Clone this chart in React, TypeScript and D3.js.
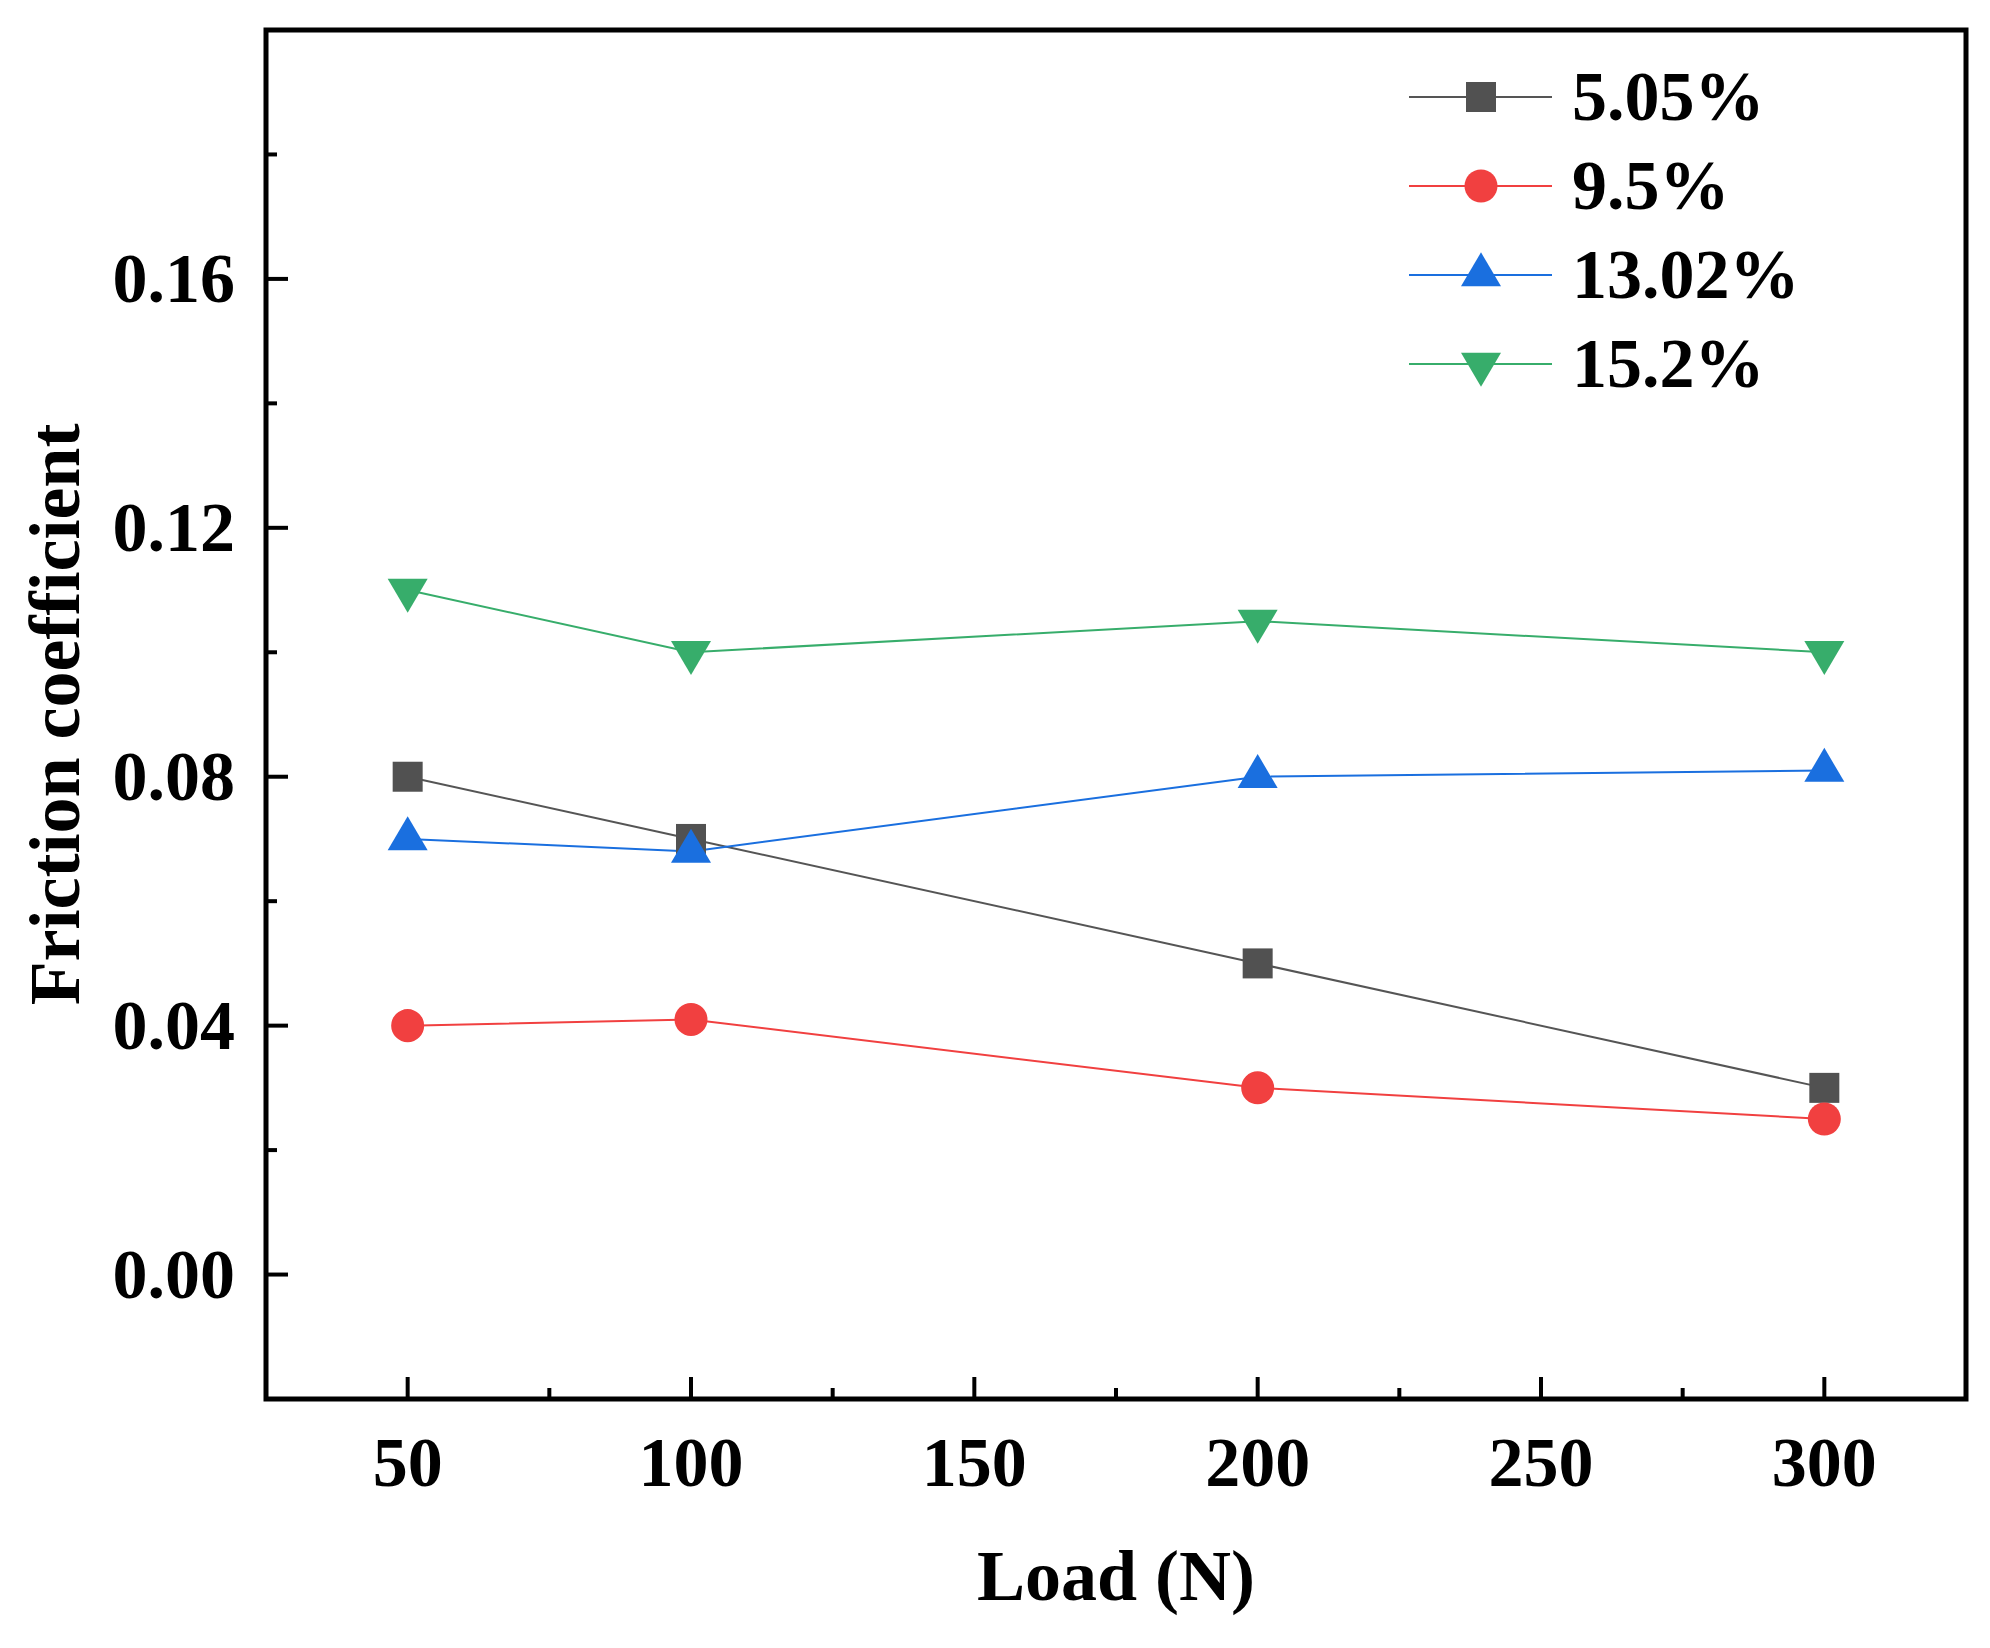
import { useRef, useEffect } from 'react';
import * as d3 from 'd3';

// Load (N)
const loads = [50, 100, 200, 300];

// friction coefficient per series
const s505 = [0.08, 0.07, 0.05, 0.03];
const s95 = [0.04, 0.041, 0.03, 0.025];
const s1302 = [0.07, 0.068, 0.08, 0.081];
const s152 = [0.11, 0.1, 0.105, 0.1];

const seriesNames = ['5.05%', '9.5%', '13.02%', '15.2%'];
const seriesValues = [s505, s95, s1302, s152];
const seriesColors = ['#515151', '#F14040', '#1A6FDF', '#37AD6B'];
const seriesLineColors = ['#555555', '#F14040', '#1A6FDF', '#37AD6B'];
const seriesShapes = ['square', 'circle', 'triangle', 'triangleDown'];

const xTicks = [50, 100, 150, 200, 250, 300];
const xMinorTicks = [75, 125, 175, 225, 275];
const yTicks = [0, 0.04, 0.08, 0.12, 0.16];
const yMinorTicks = [-0.02, 0.02, 0.06, 0.1, 0.14, 0.18];

const FONT = '"Liberation Serif", "Times New Roman", serif';

function markerPath(shape: string, cx: number, cy: number) {
    if (shape === 'square') {
        const s = 15;
        return `M${cx - s},${cy - s}H${cx + s}V${cy + s}H${cx - s}Z`;
    }
    if (shape === 'circle') {
        const r = 16.5;
        return `M${cx - r},${cy}A${r},${r} 0 1,0 ${cx + r},${cy}A${r},${r} 0 1,0 ${cx - r},${cy}Z`;
    }
    // triangles are centred on their centroid
    const hw = 20;
    const h = 34;
    if (shape === 'triangle') {
        return `M${cx},${cy - (2 * h) / 3}L${cx + hw},${cy + h / 3}L${cx - hw},${cy + h / 3}Z`;
    }
    return `M${cx},${cy + (2 * h) / 3}L${cx + hw},${cy - h / 3}L${cx - hw},${cy - h / 3}Z`;
}

export default function App() {
    const ref = useRef<SVGSVGElement | null>(null);

    useEffect(() => {
        const width = 1990;
        const height = 1648;
        const margin = { top: 30, right: 24, bottom: 249, left: 266 };
        const w = width - margin.left - margin.right;
        const h = height - margin.top - margin.bottom;

        const root = d3.select(ref.current);
        root.selectAll('*').remove();
        root.attr('width', width).attr('height', height);

        const svg = root.append('g').attr('transform', `translate(${margin.left},${margin.top})`);

        const x = d3.scaleLinear().domain([25, 325]).range([0, w]);
        const y = d3.scaleLinear().domain([-0.02, 0.2]).range([h, 0]);

        // series lines
        const line = d3
            .line<number>()
            .x((_, i) => x(loads[i]))
            .y(d => y(d));

        seriesValues.forEach((vals, k) => {
            svg.append('path')
                .datum(vals)
                .attr('d', line)
                .attr('fill', 'none')
                .attr('stroke', seriesLineColors[k])
                .attr('stroke-width', 2);
        });

        // markers
        seriesValues.forEach((vals, k) => {
            svg.append('g')
                .selectAll('path')
                .data(vals)
                .enter()
                .append('path')
                .attr('d', (d, i) => markerPath(seriesShapes[k], x(loads[i]), y(d)))
                .attr('fill', seriesColors[k]);
        });

        // ticks (inward)
        const tickG = svg.append('g').attr('stroke', '#000').attr('stroke-width', 4);
        xTicks.forEach(t => {
            tickG.append('line').attr('x1', x(t)).attr('x2', x(t)).attr('y1', h).attr('y2', h - 22);
        });
        xMinorTicks.forEach(t => {
            tickG.append('line').attr('x1', x(t)).attr('x2', x(t)).attr('y1', h).attr('y2', h - 11);
        });
        yTicks.forEach(t => {
            tickG.append('line').attr('x1', 0).attr('x2', 22).attr('y1', y(t)).attr('y2', y(t));
        });
        yMinorTicks.forEach(t => {
            tickG.append('line').attr('x1', 0).attr('x2', 11).attr('y1', y(t)).attr('y2', y(t));
        });

        // frame
        svg.append('rect')
            .attr('x', 0)
            .attr('y', 0)
            .attr('width', w)
            .attr('height', h)
            .attr('fill', 'none')
            .attr('stroke', '#000')
            .attr('stroke-width', 5);

        // tick labels
        svg.append('g')
            .selectAll('text')
            .data(xTicks)
            .enter()
            .append('text')
            .attr('x', d => x(d))
            .attr('y', h + 87)
            .attr('text-anchor', 'middle')
            .attr('font-family', FONT)
            .attr('font-weight', 'bold')
            .attr('font-size', 70)
            .text(d => d3.format('d')(d));

        svg.append('g')
            .selectAll('text')
            .data(yTicks)
            .enter()
            .append('text')
            .attr('x', -31)
            .attr('y', d => y(d) + 23)
            .attr('text-anchor', 'end')
            .attr('font-family', FONT)
            .attr('font-weight', 'bold')
            .attr('font-size', 70)
            .text(d => d3.format('.2f')(d));

        // axis titles
        svg.append('text')
            .attr('x', w / 2)
            .attr('y', h + 201)
            .attr('text-anchor', 'middle')
            .attr('font-family', FONT)
            .attr('font-weight', 'bold')
            .attr('font-size', 72)
            .text('Load (N)');

        svg.append('text')
            .attr('transform', `translate(${79 - margin.left},${h / 2}) rotate(-90)`)
            .attr('text-anchor', 'middle')
            .attr('font-family', FONT)
            .attr('font-weight', 'bold')
            .attr('font-size', 72)
            .text('Friction coefficient');

        // legend
        const legend = root.append('g');
        seriesNames.forEach((name, k) => {
            const cy = 97 + k * 89;
            const row = legend.append('g');
            row.append('line')
                .attr('x1', 1409)
                .attr('x2', 1552)
                .attr('y1', cy)
                .attr('y2', cy)
                .attr('stroke', seriesLineColors[k])
                .attr('stroke-width', 2);
            row.append('path')
                .attr('d', markerPath(seriesShapes[k], 1481, cy))
                .attr('fill', seriesColors[k]);
            row.append('text')
                .attr('x', 1572)
                .attr('y', cy + 23)
                .attr('font-family', FONT)
                .attr('font-weight', 'bold')
                .attr('font-size', 70)
                .text(name);
        });
    }, []);

    return (
        <div style={{ position: 'absolute', left: 0, top: 0, background: '#fff' }}>
            <svg ref={ref} style={{ display: 'block' }} />
        </div>
    );
}
